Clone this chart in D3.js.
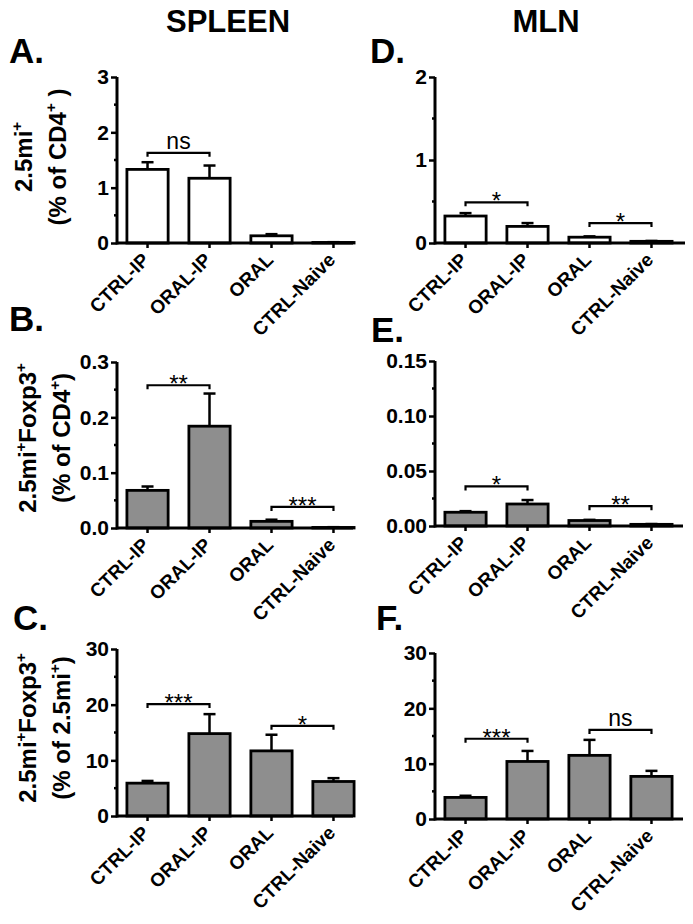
<!DOCTYPE html>
<html><head><meta charset="utf-8">
<script src="https://cdn.jsdelivr.net/npm/d3@7"></script>
<style>body{margin:0;background:#fff}svg{display:block}text{font-family:Arial,"Liberation Sans",Helvetica,sans-serif}</style>
</head><body>
<script>
const categories = ["CTRL-IP", "ORAL-IP", "ORAL", "CTRL-Naive"];

// A: spleen 2.5mi+ (% of CD4+)
const spleenTotalMean = [1.33, 1.17, 0.13, 0.01];
const spleenTotalErr  = [0.13, 0.23, 0.03, 0.005];
// D: MLN 2.5mi+ (% of CD4+)
const mlnTotalMean = [0.325, 0.20, 0.07, 0.02];
const mlnTotalErr  = [0.035, 0.04, 0.01, 0.005];
// B: spleen 2.5mi+Foxp3+ (% of CD4+)
const spleenFoxCD4Mean = [0.068, 0.184, 0.012, 0.001];
const spleenFoxCD4Err  = [0.007, 0.059, 0.003, 0.0005];
// E: MLN 2.5mi+Foxp3+ (% of CD4+)
const mlnFoxCD4Mean = [0.0125, 0.020, 0.005, 0.0015];
const mlnFoxCD4Err  = [0.001, 0.0036, 0.0006, 0.0003];
// C: spleen 2.5mi+Foxp3+ (% of 2.5mi+)
const spleenFoxMiMean = [5.9, 14.8, 11.7, 6.2];
const spleenFoxMiErr  = [0.4, 3.5, 2.9, 0.6];
// F: MLN 2.5mi+Foxp3+ (% of 2.5mi+)
const mlnFoxMiMean = [3.9, 10.4, 11.5, 7.7];
const mlnFoxMiErr  = [0.3, 1.9, 2.8, 1.0];

// y tick labels
const ticksA = [0, 1, 2, 3];
const ticksD = [0, 1, 2];
const ticksB = [0, 0.1, 0.2, 0.3];
const ticksE = [0, 0.05, 0.10, 0.15];
const ticksCF = [0, 10, 20, 30];

// significance brackets: [from, to, level, label]
const sigA = [[0, 1, 1.63, "ns"]];
const sigD = [[0, 1, 0.49, "*"], [2, 3, 0.24, "*"]];
const sigB = [[0, 1, 0.258, "**"], [2, 3, 0.038, "***"]];
const sigE = [[0, 1, 0.036, "*"], [2, 3, 0.018, "**"]];
const sigC = [[0, 1, 20.1, "***"], [2, 3, 16.2, "*"]];
const sigF = [[0, 1, 14.5, "***"], [2, 3, 16.1, "ns"]];

const W = 693, H = 924;
const svg = d3.select("body").append("svg").attr("width", W).attr("height", H);
const GRAY = "#8e8e8e";

function panel(o) {
  const g = svg.append("g");
  const y = d3.scaleLinear().domain(o.domain).range([o.y0, o.ytop]);
  const x = d3.scaleBand().domain(categories).range([o.ax, o.ax + 247]).paddingInner(0.335).paddingOuter(0.16);
  // bars
  g.selectAll("rect.bar").data(o.mean).join("rect")
    .attr("x", (d, i) => x(categories[i]))
    .attr("y", d => y(d))
    .attr("width", x.bandwidth())
    .attr("height", d => o.y0 - y(d))
    .attr("fill", o.fill).attr("stroke", "#000").attr("stroke-width", 2.8);
  // error bars
  o.mean.forEach((m, i) => {
    const cx = x(categories[i]) + x.bandwidth() / 2;
    const top = y(m + o.err[i]);
    g.append("line").attr("x1", cx).attr("x2", cx).attr("y1", y(m)).attr("y2", top)
      .attr("stroke", "#000").attr("stroke-width", 2.5);
    g.append("line").attr("x1", cx - 6).attr("x2", cx + 6).attr("y1", top).attr("y2", top)
      .attr("stroke", "#000").attr("stroke-width", 2.5);
  });
  // y axis
  const yAxis = d3.axisLeft(y).tickValues(o.ticks).tickFormat(d3.format(o.fmt)).tickSize(6).tickPadding(2);
  const ya = g.append("g").attr("transform", `translate(${o.ax},0)`).call(yAxis);
  ya.select(".domain").attr("stroke-width", 3).attr("d", `M0,${o.y0 + 1.5}V${o.ytop}`);
  ya.selectAll(".tick line").attr("stroke-width", 2.5);
  ya.selectAll(".tick text").attr("font-size", 21).attr("font-weight", "bold").attr("fill", "#000");
  // minor ticks
  const minors = [];
  for (let k = 0; k < o.ticks.length - 1; k++) minors.push((o.ticks[k] + o.ticks[k + 1]) / 2);
  g.selectAll("line.minor").data(minors).join("line")
    .attr("x1", o.ax - 3).attr("x2", o.ax).attr("y1", d => y(d)).attr("y2", d => y(d))
    .attr("stroke", "#000").attr("stroke-width", 2.5);
  // x axis
  const xAxis = d3.axisBottom(x).tickSize(5).tickFormat("");
  const xa = g.append("g").attr("transform", `translate(0,${o.y0})`).call(xAxis);
  xa.select(".domain").attr("stroke-width", 3).attr("d", `M${o.ax},0H${o.ax + o.xlen}`);
  xa.selectAll(".tick line").attr("stroke-width", 2.5);
  // rotated category labels
  g.selectAll("text.cat").data(categories).join("text")
    .attr("transform", d => `translate(${x(d) + x.bandwidth() / 2 + 3},${o.y0 + 18}) rotate(-45)`)
    .attr("text-anchor", "end").attr("font-size", 19).attr("font-weight", "bold")
    .text(d => d);
  // significance brackets
  o.sig.forEach(s => {
    const x1 = x(categories[s[0]]) + x.bandwidth() / 2;
    const x2 = x(categories[s[1]]) + x.bandwidth() / 2;
    const yy = y(s[2]);
    g.append("path").attr("d", `M${x1},${yy + 4}V${yy}H${x2}V${yy + 4}`)
      .attr("fill", "none").attr("stroke", "#000").attr("stroke-width", 2.2);
    const isNs = s[3] === "ns";
    g.append("text").attr("x", (x1 + x2) / 2).attr("y", isNs ? yy - 4 : yy + 7)
      .attr("text-anchor", "middle").attr("font-size", isNs ? 23 : 24).text(s[3]);
  });
  // y title
  if (o.ylab) {
    const t = g.append("text").attr("transform", `translate(${o.labX},${o.labY}) rotate(-90)`)
      .attr("text-anchor", "middle").attr("font-size", 24).attr("font-weight", "bold");
    o.ylab.forEach((line, li) => {
      const ts = t.append("tspan").attr("x", 0).attr("y", li * o.labGap);
      line.forEach(part => {
        const sp = ts.append("tspan").text(part[0]);
        if (part[1]) sp.attr("font-size", 15).attr("dy", -10);
        else if (part[2]) sp.attr("dy", 10);
      });
    });
  }
  // panel letter
  svg.append("text").attr("x", o.letX).attr("y", o.letY).attr("font-size", 35).attr("font-weight", "bold").text(o.letter);
}

svg.append("text").attr("x", 228).attr("y", 32).attr("text-anchor", "middle").attr("font-size", 31).attr("font-weight", "bold").text("SPLEEN");
svg.append("text").attr("x", 546).attr("y", 32).attr("text-anchor", "middle").attr("font-size", 31).attr("font-weight", "bold").text("MLN");

panel({letter: "A.", letX: 9, letY: 63, ax: 117, y0: 243, ytop: 77, domain: [0, 3], ticks: ticksA, fmt: "d",
  mean: spleenTotalMean, err: spleenTotalErr, fill: "#fff", sig: sigA, xlen: 236,
  labX: 32, labY: 157, labGap: 34,
  ylab: [[["2.5mi"], ["+", true]], [["(% of CD4"], ["+", true], [" )", false, true]]]});
panel({letter: "D.", letX: 370, letY: 63, ax: 435, y0: 243, ytop: 77, domain: [0, 2], ticks: ticksD, fmt: "d",
  mean: mlnTotalMean, err: mlnTotalErr, fill: "#fff", sig: sigD, xlen: 250});
panel({letter: "B.", letX: 9, letY: 331, ax: 117, y0: 528, ytop: 362, domain: [0, 0.3], ticks: ticksB, fmt: ".1f",
  mean: spleenFoxCD4Mean, err: spleenFoxCD4Err, fill: GRAY, sig: sigB, xlen: 236,
  labX: 36, labY: 438, labGap: 34,
  ylab: [[["2.5mi"], ["+", true], ["Foxp3", false, true], ["+", true]], [["(% of CD4"], ["+", true], [")", false, true]]]});
panel({letter: "E.", letX: 371, letY: 342, ax: 435, y0: 526, ytop: 361, domain: [0, 0.15], ticks: ticksE, fmt: ".2f",
  mean: mlnFoxCD4Mean, err: mlnFoxCD4Err, fill: GRAY, sig: sigE, xlen: 248});
panel({letter: "C.", letX: 13, letY: 630, ax: 117, y0: 816, ytop: 649, domain: [0, 30], ticks: ticksCF, fmt: "d",
  mean: spleenFoxMiMean, err: spleenFoxMiErr, fill: GRAY, sig: sigC, xlen: 236,
  labX: 36, labY: 728, labGap: 34,
  ylab: [[["2.5mi"], ["+", true], ["Foxp3", false, true], ["+", true]], [["(% of 2.5mi"], ["+", true], [")", false, true]]]});
panel({letter: "F.", letX: 376, letY: 630, ax: 435, y0: 819, ytop: 653, domain: [0, 30], ticks: ticksCF, fmt: "d",
  mean: mlnFoxMiMean, err: mlnFoxMiErr, fill: GRAY, sig: sigF, xlen: 248});
</script>
</body></html>
